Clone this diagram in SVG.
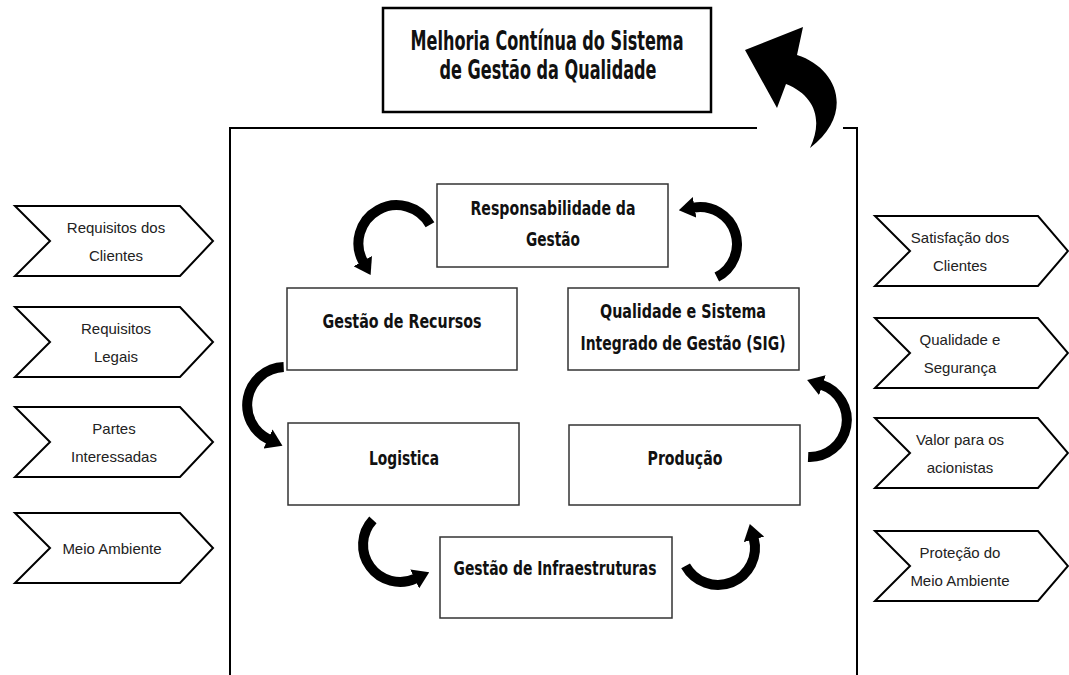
<svg xmlns="http://www.w3.org/2000/svg" width="1069" height="675" viewBox="0 0 1069 675">
<defs>
<marker id="ah" markerUnits="strokeWidth" markerWidth="1.6" markerHeight="2.1" viewBox="0 0 16 21" refX="1" refY="10.5" orient="auto">
<path d="M0,0 L16,10.5 L0,21 Z" fill="#000"/>
</marker>
<style>
.box{fill:#fff;stroke:#333;stroke-width:1.5}
.tbox{fill:#fff;stroke:#000;stroke-width:2.5}
.chev{fill:#fff;stroke:#000;stroke-width:2;stroke-linejoin:miter}
.frame{fill:none;stroke:#000;stroke-width:2}
.arc{fill:none;stroke:#000;stroke-width:10;marker-end:url(#ah)}
.bt{font-family:"Liberation Sans Narrow","DejaVu Sans Condensed","DejaVu Sans",sans-serif;font-stretch:condensed;font-weight:bold;font-size:20px;fill:#111;text-anchor:middle}
.tt{font-family:"Liberation Sans Narrow","DejaVu Sans Condensed","DejaVu Sans",sans-serif;font-stretch:condensed;font-weight:bold;font-size:26px;fill:#111;text-anchor:middle}
.ct{font-family:"Liberation Sans",Arial,sans-serif;font-size:15px;fill:#222;text-anchor:middle}
</style>
</defs>
<rect width="1069" height="675" fill="#fff"/>

<g id="frame">
<path class="frame" d="M230,676 V128 H757 M843,128 H857 V676"/>
</g>

<g id="title">
<rect class="tbox" x="383" y="8" width="328" height="104"/>
<text class="tt" x="547" y="50" textLength="273" lengthAdjust="spacingAndGlyphs">Melhoria Contínua do Sistema</text>
<text class="tt" x="548" y="79" textLength="217" lengthAdjust="spacingAndGlyphs">de Gestão da Qualidade</text>
</g>

<g id="big-arrow">
<path d="M745,50 L803,27 L797,55 C838,68 855,114 810,148 C823,121 816,96 786,84 L777,108 Z" fill="#000"/>
</g>

<g id="resp">
<rect class="box" x="437" y="184" width="231" height="83"/>
<text class="bt" x="553" y="215" textLength="165" lengthAdjust="spacingAndGlyphs">Responsabilidade da</text>
<text class="bt" x="553" y="246" textLength="54" lengthAdjust="spacingAndGlyphs">Gestão</text>
</g>
<g id="recursos">
<rect class="box" x="287" y="288" width="230" height="82"/>
<text class="bt" x="402" y="328" textLength="159" lengthAdjust="spacingAndGlyphs">Gestão de Recursos</text>
</g>
<g id="sig">
<rect class="box" x="568" y="288" width="231" height="82"/>
<text class="bt" x="683" y="318" textLength="166" lengthAdjust="spacingAndGlyphs">Qualidade e Sistema</text>
<text class="bt" x="683" y="350" textLength="205" lengthAdjust="spacingAndGlyphs">Integrado de Gestão (SIG)</text>
</g>
<g id="logistica">
<rect class="box" x="288" y="423" width="231" height="82"/>
<text class="bt" x="404" y="465" textLength="70" lengthAdjust="spacingAndGlyphs">Logistica</text>
</g>
<g id="producao">
<rect class="box" x="569" y="425" width="231" height="80"/>
<text class="bt" x="685" y="465" textLength="75" lengthAdjust="spacingAndGlyphs">Produção</text>
</g>
<g id="infra">
<rect class="box" x="440" y="537" width="232" height="81"/>
<text class="bt" x="555" y="575" textLength="203" lengthAdjust="spacingAndGlyphs">Gestão de Infraestruturas</text>
</g>

<g id="connectors">
<path class="arc" d="M430,224.8 A38,38 0 1,0 363.3,262"/>
<path class="arc" d="M716.8,277 A37,37 0 0,0 693.6,207.6"/>
<path class="arc" d="M283.7,367.1 A38,38 0 0,0 268.9,439.4"/>
<path class="arc" d="M808.1,456.9 A37,37 0 0,0 821.4,384.8"/>
<path class="arc" d="M372.9,519.8 A37,37 0 0,0 415.6,578.5"/>
<path class="arc" d="M685.6,565.9 A37,37 0 0,0 753.7,538.4"/>
</g>

<g id="in-clientes">
<path class="chev" d="M15,206 H180 L213,241 L180,276 H15 L50,241 Z"/>
<text class="ct" x="116" y="233">Requisitos dos</text>
<text class="ct" x="116" y="261">Clientes</text>
</g>
<g id="in-legais">
<path class="chev" d="M15,307 H180 L213,342 L180,377 H15 L50,342 Z"/>
<text class="ct" x="116" y="334">Requisitos</text>
<text class="ct" x="116" y="362">Legais</text>
</g>
<g id="in-partes">
<path class="chev" d="M15,407 H180 L213,442 L180,477 H15 L50,442 Z"/>
<text class="ct" x="114" y="434">Partes</text>
<text class="ct" x="114" y="462">Interessadas</text>
</g>
<g id="in-ambiente">
<path class="chev" d="M15,513 H180 L213,548 L180,583 H15 L50,548 Z"/>
<text class="ct" x="112" y="554">Meio Ambiente</text>
</g>

<g id="out-satisfacao">
<path class="chev" d="M875,216 H1038 L1068,251 L1038,286 H875 L910,251 Z"/>
<text class="ct" x="960" y="243">Satisfação dos</text>
<text class="ct" x="960" y="271">Clientes</text>
</g>
<g id="out-qualidade">
<path class="chev" d="M875,318 H1038 L1068,353 L1038,388 H875 L910,353 Z"/>
<text class="ct" x="960" y="345">Qualidade e</text>
<text class="ct" x="960" y="373">Segurança</text>
</g>
<g id="out-valor">
<path class="chev" d="M875,418 H1038 L1068,453 L1038,488 H875 L910,453 Z"/>
<text class="ct" x="960" y="445">Valor para os</text>
<text class="ct" x="960" y="473">acionistas</text>
</g>
<g id="out-protecao">
<path class="chev" d="M875,531 H1038 L1068,566 L1038,601 H875 L910,566 Z"/>
<text class="ct" x="960" y="558">Proteção do</text>
<text class="ct" x="960" y="586">Meio Ambiente</text>
</g>
</svg>
